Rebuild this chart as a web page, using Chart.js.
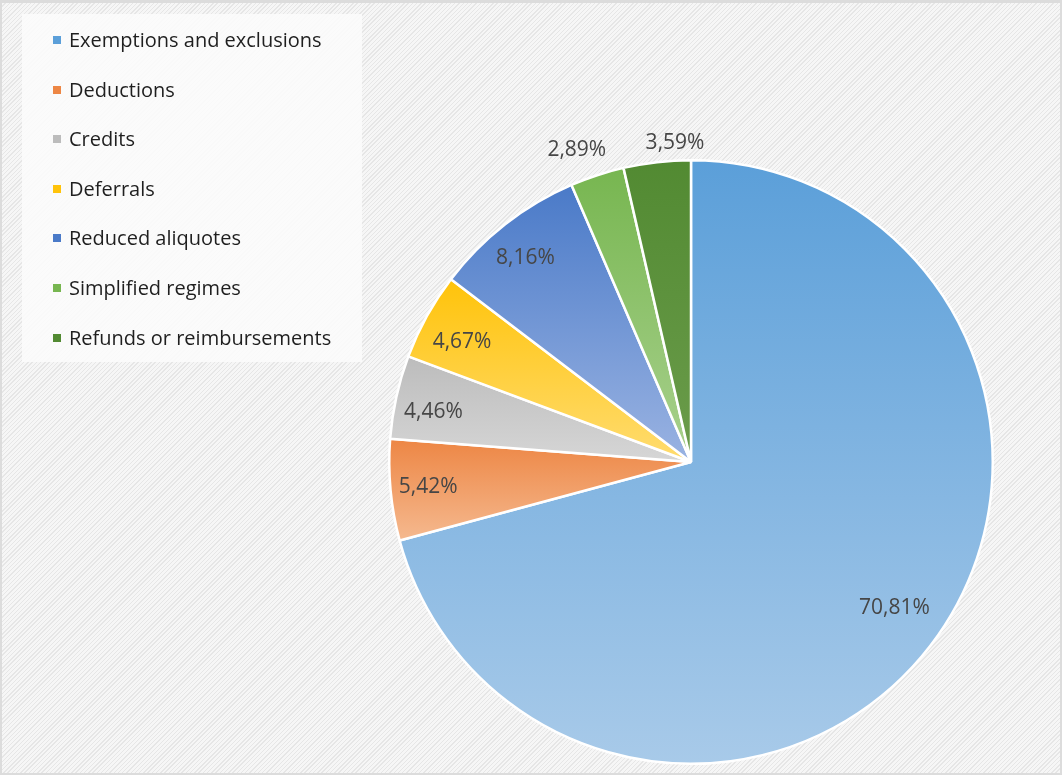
<!DOCTYPE html>
<html>
<head>
<meta charset="utf-8">
<script src="https://cdn.jsdelivr.net/npm/chart.js@4.4.0/dist/chart.umd.min.js"></script>
<style>
  html, body { margin: 0; padding: 0; }
  body { width: 1062px; height: 775px; overflow: hidden; font-family: "Open Sans", sans-serif; }
  #frame {
    position: relative; width: 1058px; height: 770px;
    border: 2px solid #dcdcdc; border-top-width: 3px;
    background-color: #f3f3f3;
    background-image: repeating-linear-gradient(135deg, #f6f6f6 0px, #f6f6f6 2px, #e6e6e6 2px, #e6e6e6 3px);
  }
  #chart { position: absolute; left: -2px; top: -3px; }
  #legend {
    position: absolute; left: 20px; top: 11px; width: 340px; height: 348px;
    background: rgba(252,252,252,0.85);
  }
  .item { position: absolute; left: 31px; height: 24px; line-height: 24px; font-size: 20px; color: #1f1f1f; white-space: nowrap; }
  .item span.sw { display: inline-block; width: 8px; height: 8px; margin-right: 8px; vertical-align: 3px; }
</style>
</head>
<body>
<div id="frame">
  <canvas id="chart" width="1062" height="775"></canvas>
  <div id="legend"></div>
</div>
<script>
const categories = ['Exemptions and exclusions', 'Deductions', 'Credits', 'Deferrals',
  'Reduced aliquotes', 'Simplified regimes', 'Refunds or reimbursements'];
const shares = [70.81, 5.42, 4.46, 4.67, 8.16, 2.89, 3.59];
const shareLabels = ['70,81%', '5,42%', '4,46%', '4,67%', '8,16%', '2,89%', '3,59%'];
// gradient end colours per slice: top (darker) and bottom (lighter)
const topColors = ['#5b9fd9', '#ed8644', '#bcbcbc', '#ffc30a', '#4a7ac8', '#77b650', '#528a32'];
const bottomColors = ['#a8cae9', '#f5b98f', '#d6d6d6', '#ffdc70', '#9ab3e2', '#a9d18e', '#6b9c4b'];

// legend
const legend = document.getElementById('legend');
categories.forEach((c, i) => {
  const d = document.createElement('div');
  d.className = 'item';
  d.style.top = (14 + i * 49.6) + 'px';
  d.innerHTML = '<span class="sw" style="background:' + topColors[i] + '"></span>' + c;
  legend.appendChild(d);
});

function arcBox(el) {
  const xs = [el.x], ys = [el.y];
  const r = el.outerRadius;
  const pts = [el.startAngle, el.endAngle];
  for (let k = -2; k <= 4; k++) {
    const a = k * Math.PI / 2;
    if (a > el.startAngle && a < el.endAngle) pts.push(a);
  }
  pts.forEach(a => { xs.push(el.x + r * Math.cos(a)); ys.push(el.y + r * Math.sin(a)); });
  return { top: Math.min(...ys), bottom: Math.max(...ys) };
}

const gradientPlugin = {
  id: 'sliceGradient',
  beforeDatasetsDraw(chart) {
    const ctx = chart.ctx;
    chart.getDatasetMeta(0).data.forEach((el, i) => {
      const b = arcBox(el);
      const g = ctx.createLinearGradient(0, b.top, 0, b.bottom);
      g.addColorStop(0, topColors[i]);
      g.addColorStop(1, bottomColors[i]);
      el.options.backgroundColor = g;
    });
  }
};

const labelPlugin = {
  id: 'sliceLabels',
  afterDatasetsDraw(chart, args, opts) {
    const ctx = chart.ctx;
    ctx.save();
    ctx.font = '21px "Open Sans", sans-serif';
    ctx.fillStyle = '#464646';
    ctx.textAlign = 'center';
    ctx.textBaseline = 'middle';
    chart.getDatasetMeta(0).data.forEach((el, i) => {
      const a = (el.startAngle + el.endAngle) / 2 + opts.nudge[i] * Math.PI / 180;
      const r = el.outerRadius * opts.radius[i];
      ctx.fillText(shareLabels[i], el.x + r * Math.cos(a), el.y + r * Math.sin(a));
    });
    ctx.restore();
  }
};

new Chart(document.getElementById('chart'), {
  type: 'pie',
  data: {
    labels: categories,
    datasets: [{
      data: shares,
      backgroundColor: topColors,
      borderColor: '#ffffff',
      borderWidth: 2.5
    }]
  },
  options: {
    responsive: false,
    animation: false,
    layout: { padding: { left: 388, right: 68, top: 159, bottom: 10 } },
    plugins: {
      legend: { display: false },
      tooltip: { enabled: false },
      sliceLabels: {
        radius: [0.83, 0.875, 0.87, 0.856, 0.87, 1.10, 1.06],
        nudge: [-1.8, 0, -1.4, -1.3, -1.1, -2, 3.6]
      }
    }
  },
  plugins: [gradientPlugin, labelPlugin]
});
</script>
</body>
</html>
